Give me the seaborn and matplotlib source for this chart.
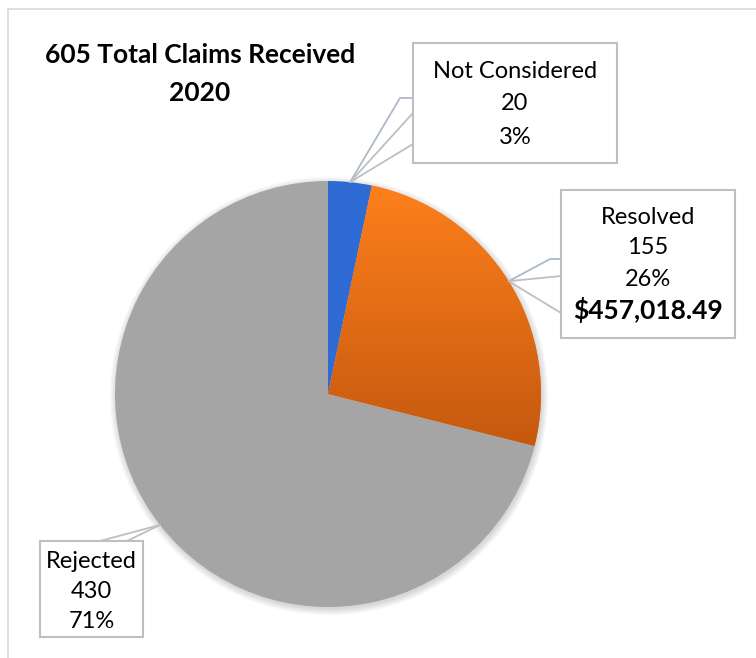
import numpy as np
import matplotlib.pyplot as plt
import matplotlib.patches as mpatches
from matplotlib.colors import LinearSegmentedColormap
import seaborn as sns

# -----------------------------
# Data
# -----------------------------
categories = ["Not Considered", "Resolved", "Rejected"]
claims = [20, 155, 430]
resolved_amount = "$457,018.49"
title_text = "605 Total Claims Received\n2020"

sns.set_theme(style="white")
plt.rcParams['font.family'] = ['Lato', 'DejaVu Sans']

W, H = 756, 658
fig = plt.figure(figsize=(7.56, 6.58), dpi=100)
ax = fig.add_axes([0, 0, 1, 1])


def Y(y):
    # convert top-based pixel y to axes data y
    return H - y


# -----------------------------
# Pie
# -----------------------------
cx, cy, r = 328, Y(394), 213
colors = ["#2E6BD5", "#F47A18", "#A5A5A5"]

# soft shadow behind the pie
for i in range(10):
    ax.add_patch(mpatches.Circle((cx + 1, cy - 2), r + i * 0.7, color="black",
                                 alpha=0.015, lw=0, zorder=0))

wedges, _ = ax.pie(claims, colors=colors, startangle=90, counterclock=False,
                   center=(cx, cy), radius=r, frame=True,
                   wedgeprops=dict(linewidth=0, zorder=1))

# orange gradient fill on the Resolved slice
w = wedges[1]
t_end = np.deg2rad(w.theta1)
y_low = cy + r * np.sin(t_end)
grad = np.linspace(0, 1, 256).reshape(-1, 1)
cmap = LinearSegmentedColormap.from_list("og", ["#FF801C", "#C5590F"])
im = ax.imshow(grad, cmap=cmap, extent=(cx, cx + r, y_low, cy + r),
               origin="upper", aspect="auto", zorder=2)
im.set_clip_path(w)

# -----------------------------
# Callouts
# -----------------------------
total = sum(claims)
pcts = [round(v / total * 100) for v in claims]

boxes = {
    "Not Considered": (413, 43, 617, 163),
    "Resolved": (561, 190, 735, 338),
    "Rejected": (40, 541, 143, 637),
}
leaders = {
    "Not Considered": ([(400, 98), (413, 98)], [(413, 113), (413, 144)]),
    "Resolved": ([(550, 259), (561, 259)], [(561, 276), (561, 313)]),
    "Rejected": ([], [(100, 541), (127, 541)]),
}
line_y = {
    "Not Considered": [72, 104, 137],
    "Resolved": [217, 248, 279, 310],
    "Rejected": [561, 591, 621],
}

for wedge, cat, val, pct in zip(wedges, categories, claims, pcts):
    mid = np.deg2rad((wedge.theta1 + wedge.theta2) / 2)
    tx, ty = cx + r * np.cos(mid), cy + r * np.sin(mid)
    blue_pts, gray_pts = leaders[cat]
    if blue_pts:
        xs = [tx] + [p[0] for p in blue_pts]
        ys = [ty] + [Y(p[1]) for p in blue_pts]
        ax.plot(xs, ys, color="#ADB9CA", lw=1.3, zorder=4)
    for p in gray_pts:
        ax.plot([tx, p[0]], [ty, Y(p[1])], color="#BFBFBF", lw=1.3, zorder=4)

    x0, y0, x1, y1 = boxes[cat]
    ax.add_patch(mpatches.Rectangle((x0, Y(y1)), x1 - x0, y1 - y0, facecolor="white",
                                    edgecolor="#BFBFBF", lw=1.5, zorder=5))
    xc = (x0 + x1) / 2
    lines = [cat, str(val), f"{pct}%"]
    for txt, yy in zip(lines, line_y[cat]):
        ax.text(xc, Y(yy), txt, ha="center", va="center", fontsize=17,
                color="#000000", zorder=6)
    if cat == "Resolved":
        ax.text(xc, Y(line_y[cat][3]), resolved_amount, ha="center", va="center",
                fontsize=19, fontweight="bold", color="#000000", zorder=6)

# -----------------------------
# Title and chart border
# -----------------------------
title_lines = title_text.split("\n")
for txt, yy in zip(title_lines, [55, 93]):
    ax.text(200, Y(yy), txt, ha="center", va="center", fontsize=19,
            fontweight="bold", color="#000000", zorder=6)

ax.add_patch(mpatches.Rectangle((8, -10), W + 10, Y(9) + 10, fill=False,
                                edgecolor="#D9D9D9", lw=1.2, zorder=0))

ax.set_xlim(0, W)
ax.set_ylim(0, H)
ax.axis("off")

fig.savefig("out.png", dpi=100)
